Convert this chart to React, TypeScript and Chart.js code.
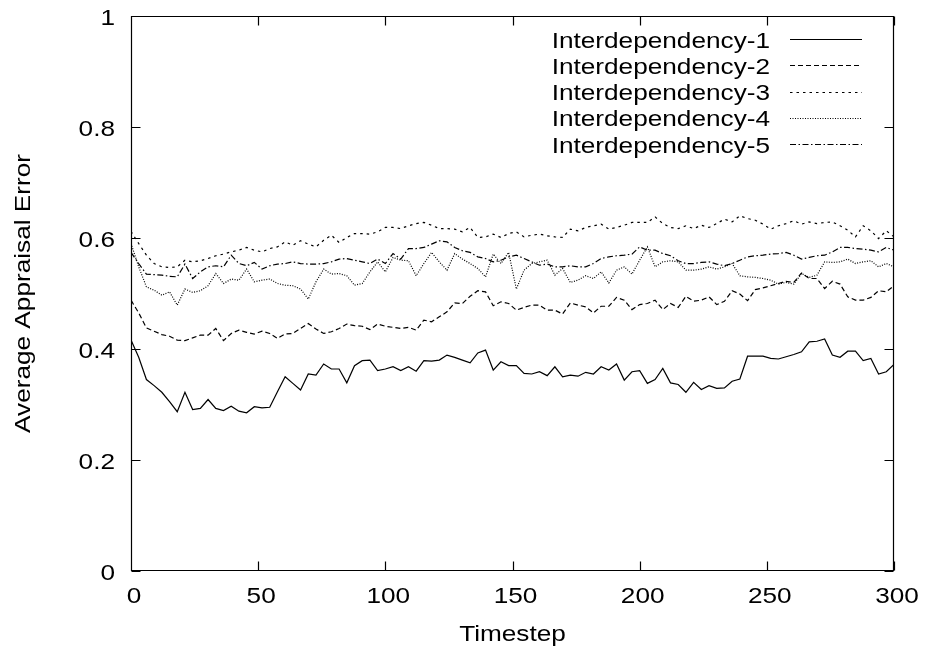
import React, { useEffect, useRef } from "react";
import { Chart, registerables } from "chart.js";

Chart.register(...registerables);

// ---- data (100 samples spanning timestep 0..300) ----
const seriesNames = [
  "Interdependency-1",
  "Interdependency-2",
  "Interdependency-3",
  "Interdependency-4",
  "Interdependency-5",
];

const series1 = [
  0.416, 0.385, 0.345, 0.334, 0.322, 0.305, 0.287, 0.322, 0.291, 0.293,
  0.309, 0.293, 0.289, 0.297, 0.288, 0.285, 0.296, 0.294, 0.295, 0.323,
  0.350, 0.338, 0.326, 0.355, 0.353, 0.373, 0.364, 0.364, 0.339, 0.370,
  0.379, 0.380, 0.361, 0.364, 0.368, 0.361, 0.368, 0.360, 0.379, 0.378,
  0.380, 0.389, 0.385, 0.380, 0.375, 0.393, 0.398, 0.362, 0.377, 0.370,
  0.370, 0.356, 0.355, 0.359, 0.352, 0.368, 0.350, 0.353, 0.351, 0.358,
  0.355, 0.368, 0.362, 0.373, 0.344, 0.359, 0.361, 0.338, 0.345, 0.365,
  0.339, 0.336, 0.322, 0.340, 0.327, 0.334, 0.329, 0.330, 0.342, 0.346,
  0.387, 0.387, 0.387, 0.383, 0.382, 0.386, 0.390, 0.395, 0.413, 0.414,
  0.418, 0.389, 0.385, 0.396, 0.396, 0.379, 0.383, 0.355, 0.359, 0.372,
];

const series2 = [
  0.488, 0.465, 0.438, 0.432, 0.426, 0.423, 0.416, 0.415, 0.420, 0.425,
  0.425, 0.437, 0.415, 0.428, 0.434, 0.430, 0.427, 0.432, 0.428, 0.419,
  0.427, 0.428, 0.437, 0.446, 0.436, 0.428, 0.431, 0.437, 0.445, 0.442,
  0.441, 0.435, 0.445, 0.441, 0.439, 0.437, 0.439, 0.434, 0.452, 0.449,
  0.458, 0.467, 0.483, 0.482, 0.495, 0.505, 0.503, 0.478, 0.485, 0.482,
  0.470, 0.475, 0.479, 0.479, 0.470, 0.470, 0.463, 0.483, 0.479, 0.476,
  0.465, 0.477, 0.477, 0.493, 0.488, 0.471, 0.480, 0.482, 0.488, 0.471,
  0.482, 0.475, 0.495, 0.486, 0.488, 0.494, 0.480, 0.486, 0.505, 0.499,
  0.487, 0.507, 0.510, 0.514, 0.518, 0.522, 0.520, 0.537, 0.527, 0.527,
  0.509, 0.522, 0.517, 0.494, 0.488, 0.488, 0.493, 0.505, 0.503, 0.514,
];

const series3 = [
  0.612, 0.590, 0.569, 0.554, 0.548, 0.547, 0.548, 0.560, 0.557, 0.559,
  0.563, 0.568, 0.571, 0.575, 0.578, 0.583, 0.578, 0.575, 0.581, 0.584,
  0.593, 0.587, 0.595, 0.589, 0.584, 0.596, 0.605, 0.592, 0.601, 0.608,
  0.608, 0.607, 0.611, 0.619, 0.619, 0.617, 0.622, 0.626, 0.628, 0.623,
  0.617, 0.617, 0.616, 0.611, 0.619, 0.601, 0.602, 0.607, 0.601, 0.608,
  0.611, 0.602, 0.605, 0.607, 0.604, 0.602, 0.601, 0.616, 0.613, 0.619,
  0.622, 0.625, 0.616, 0.619, 0.623, 0.628, 0.628, 0.628, 0.638, 0.626,
  0.619, 0.617, 0.622, 0.617, 0.623, 0.619, 0.626, 0.634, 0.629, 0.640,
  0.635, 0.632, 0.625, 0.616, 0.622, 0.626, 0.631, 0.625, 0.629, 0.626,
  0.628, 0.629, 0.622, 0.614, 0.602, 0.622, 0.613, 0.599, 0.613, 0.602,
];

const series4 = [
  0.590, 0.548, 0.512, 0.506, 0.497, 0.503, 0.479, 0.508, 0.502, 0.505,
  0.514, 0.536, 0.518, 0.526, 0.524, 0.544, 0.521, 0.524, 0.526, 0.518,
  0.515, 0.514, 0.508, 0.490, 0.521, 0.544, 0.535, 0.536, 0.532, 0.515,
  0.518, 0.539, 0.557, 0.539, 0.565, 0.560, 0.559, 0.532, 0.554, 0.574,
  0.557, 0.542, 0.572, 0.562, 0.554, 0.545, 0.530, 0.571, 0.554, 0.574,
  0.508, 0.542, 0.554, 0.557, 0.560, 0.533, 0.545, 0.520, 0.524, 0.532,
  0.527, 0.539, 0.519, 0.542, 0.548, 0.535, 0.560, 0.584, 0.548, 0.557,
  0.559, 0.557, 0.542, 0.542, 0.544, 0.548, 0.544, 0.548, 0.554, 0.532,
  0.530, 0.529, 0.527, 0.524, 0.517, 0.520, 0.517, 0.536, 0.529, 0.533,
  0.557, 0.556, 0.557, 0.562, 0.554, 0.557, 0.559, 0.548, 0.554, 0.548,
];

const series5 = [
  0.574, 0.554, 0.535, 0.534, 0.533, 0.531, 0.530, 0.553, 0.527, 0.539,
  0.548, 0.550, 0.548, 0.569, 0.554, 0.550, 0.556, 0.544, 0.550, 0.553,
  0.554, 0.557, 0.554, 0.553, 0.553, 0.554, 0.557, 0.562, 0.563, 0.560,
  0.557, 0.554, 0.562, 0.554, 0.572, 0.562, 0.581, 0.581, 0.583, 0.589,
  0.595, 0.593, 0.583, 0.577, 0.574, 0.566, 0.563, 0.557, 0.560, 0.566,
  0.569, 0.563, 0.557, 0.551, 0.553, 0.548, 0.548, 0.550, 0.548, 0.548,
  0.554, 0.563, 0.566, 0.568, 0.569, 0.571, 0.584, 0.578, 0.578, 0.572,
  0.568, 0.559, 0.554, 0.554, 0.556, 0.557, 0.553, 0.550, 0.554, 0.560,
  0.566, 0.568, 0.569, 0.571, 0.572, 0.574, 0.569, 0.562, 0.565, 0.568,
  0.569, 0.575, 0.583, 0.583, 0.581, 0.580, 0.578, 0.575, 0.583, 0.578,
];

const allSeries = [series1, series2, series3, series4, series5];

// evenly spaced sample positions over 0..300
const timesteps = series1.map((_, k) => (k * 300) / (series1.length - 1));

const xTicks = [0, 50, 100, 150, 200, 250, 300];
const xTickLabels = ["0", "50", "100", "150", "200", "250", "300"];
const yTicks = [0, 0.2, 0.4, 0.6, 0.8, 1];
const yTickLabels = ["0", "0.2", "0.4", "0.6", "0.8", "1"];

const xTitle = "Timestep";
const yTitle = "Average Appraisal Error";

// ---- styles ----
const dashPatterns: number[][] = [[], [5, 3], [2.5, 4], [1, 1.5], [6, 2.5, 1.5, 2.5]];
const FONT = '22px "Liberation Sans", Arial, Helvetica, sans-serif';
const STRETCH = 1.19;

function drawText(
  ctx: CanvasRenderingContext2D,
  text: string,
  x: number,
  y: number,
  align: CanvasTextAlign,
  angle = 0
) {
  ctx.save();
  ctx.translate(x, y);
  if (angle) ctx.rotate(angle);
  ctx.scale(STRETCH, 1);
  ctx.font = FONT;
  ctx.fillStyle = "#000";
  ctx.textAlign = align;
  ctx.textBaseline = "alphabetic";
  ctx.fillText(text, 0, 0);
  ctx.restore();
}

const framePlugin = {
  id: "gnuplotFrame",
  afterDatasetsDraw(chart: any) {
    const { ctx, chartArea: a, scales } = chart;
    const xs = scales.x;
    const ys = scales.y;
    const L = Math.round(a.left) + 0.5;
    const R = Math.round(a.right) - 0.5;
    const T = Math.round(a.top) + 0.5;
    const B = Math.round(a.bottom) - 0.5;
    const TL = 9;
    ctx.save();
    ctx.strokeStyle = "#000";
    ctx.lineWidth = 1.2;
    ctx.setLineDash([]);
    ctx.beginPath();
    ctx.rect(L, T, R - L, B - T);
    xTicks.forEach((v) => {
      const px = Math.round(xs.getPixelForValue(v)) + 0.5;
      ctx.moveTo(px, B);
      ctx.lineTo(px, B - TL);
      ctx.moveTo(px, T);
      ctx.lineTo(px, T + TL);
    });
    yTicks.forEach((v) => {
      const py = Math.round(ys.getPixelForValue(v)) + 0.5;
      ctx.moveTo(L, py);
      ctx.lineTo(L + TL, py);
      ctx.moveTo(R, py);
      ctx.lineTo(R - TL, py);
    });
    ctx.stroke();
    ctx.restore();
  },
  afterDraw(chart: any) {
    const { ctx, chartArea: a, scales } = chart;
    const xs = scales.x;
    const ys = scales.y;
    // tick labels
    yTicks.forEach((v, i) => {
      drawText(ctx, yTickLabels[i], a.left - 16, ys.getPixelForValue(v) + 9, "right");
    });
    xTicks.forEach((v, i) => {
      drawText(ctx, xTickLabels[i], xs.getPixelForValue(v) + 3, a.bottom + 32, "center");
    });
    // axis titles
    drawText(ctx, xTitle, (a.left + a.right) / 2, a.bottom + 70, "center");
    drawText(ctx, yTitle, 30, (a.top + a.bottom) / 2, "center", -Math.PI / 2);
    // key (gnuplot style: text right-justified, sample line to the right)
    chart.data.datasets.forEach((ds: any, i: number) => {
      const base = 47.5 + 26.3 * i;
      drawText(ctx, ds.label, 770, base, "right");
      const ly = Math.round(base - 8.5) + 0.5;
      ctx.save();
      ctx.strokeStyle = "#000";
      ctx.lineWidth = 1.2;
      ctx.setLineDash(dashPatterns[i]);
      ctx.beginPath();
      ctx.moveTo(790, ly);
      ctx.lineTo(862, ly);
      ctx.stroke();
      ctx.restore();
    });
  },
};

export default function App() {
  const canvasRef = useRef<HTMLCanvasElement | null>(null);

  useEffect(() => {
    const canvas = canvasRef.current;
    if (!canvas) return;
    const chart = new Chart(canvas, {
      type: "line",
      data: {
        datasets: seriesNames.map((name, i) => ({
          label: name,
          data: timesteps.map((t, k) => ({ x: t, y: allSeries[i][k] })),
          borderColor: "#000",
          backgroundColor: "#000",
          borderWidth: 1.2,
          borderDash: dashPatterns[i],
          pointRadius: 0,
          pointHoverRadius: 0,
          fill: false,
          tension: 0,
        })),
      },
      options: {
        animation: false,
        responsive: false,
        devicePixelRatio: 1,
        events: [],
        layout: { padding: { left: 131, right: 31, top: 16, bottom: 82 } },
        plugins: {
          legend: { display: false },
          tooltip: { enabled: false },
          title: { display: false },
        },
        scales: {
          x: {
            type: "linear",
            min: 0,
            max: 300,
            grid: { display: false, drawTicks: false, tickLength: 0 },
            border: { display: false },
            ticks: { display: false, stepSize: 50 },
            afterFit: (s: any) => {
              s.height = 0;
            },
          },
          y: {
            type: "linear",
            min: 0,
            max: 1,
            grid: { display: false, drawTicks: false, tickLength: 0 },
            border: { display: false },
            ticks: { display: false, stepSize: 0.2 },
            afterFit: (s: any) => {
              s.width = 0;
            },
          },
        },
      },
      plugins: [framePlugin],
    });
    return () => chart.destroy();
  }, []);

  return (
    <div
      style={{
        position: "fixed",
        left: 0,
        top: 0,
        width: 925,
        height: 653,
        background: "#fff",
      }}
    >
      <canvas ref={canvasRef} width={925} height={653} style={{ display: "block" }} />
    </div>
  );
}
